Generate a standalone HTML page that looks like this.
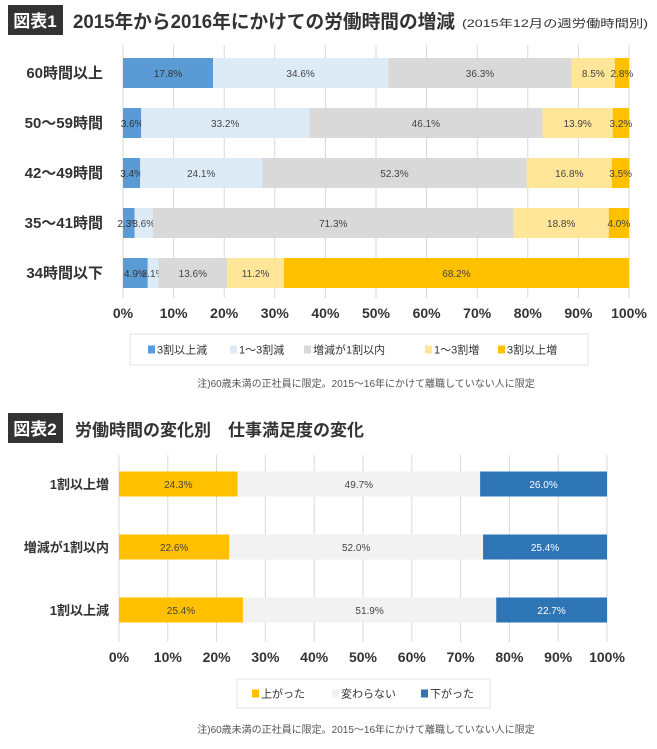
<!DOCTYPE html>
<html><head><meta charset="utf-8"><style>
body{margin:0;background:#fff;font-family:"Liberation Sans","Noto Sans CJK JP",sans-serif;}
svg text{font-family:"Liberation Sans","Noto Sans CJK JP",sans-serif;}
</style></head><body>
<svg id="c" width="657" height="744" xmlns="http://www.w3.org/2000/svg">
<rect x="8" y="5" width="55" height="30" fill="#333"/>
<text x="35" y="27" font-size="17" font-weight="bold" fill="#fff" text-anchor="middle">図表1</text>
<text x="73" y="28" font-size="19" font-weight="bold" fill="#333" textLength="382" lengthAdjust="spacingAndGlyphs">2015年から2016年にかけての労働時間の増減</text>
<text x="462" y="27" font-size="11" fill="#333" textLength="186" lengthAdjust="spacingAndGlyphs">(2015年12月の週労働時間別)</text>
<rect x="8" y="413" width="55" height="30" fill="#333"/>
<text x="35" y="435" font-size="17" font-weight="bold" fill="#fff" text-anchor="middle">図表2</text>
<text x="75" y="436" font-size="17" font-weight="bold" fill="#333">労働時間の変化別　仕事満足度の変化</text>
<g id="g1"></g><g id="g2"></g>
</svg>
<script>
const cats1=["60時間以上","50〜59時間","42〜49時間","35〜41時間","34時間以下"];
const series1Names=["3割以上減","1〜3割減","増減が1割以内","1〜3割増","3割以上増"];
const s1a=[17.8,3.6,3.4,2.3,4.9];
const s1b=[34.6,33.2,24.1,3.6,2.1];
const s1c=[36.3,46.1,52.3,71.3,13.6];
const s1d=[8.5,13.9,16.8,18.8,11.2];
const s1e=[2.8,3.2,3.5,4.0,68.2];
const cats2=["1割以上増","増減が1割以内","1割以上減"];
const series2Names=["上がった","変わらない","下がった"];
const s2a=[24.3,22.6,25.4];
const s2b=[49.7,52.0,51.9];
const s2c=[26.0,25.4,22.7];
const ticks=["0%","10%","20%","30%","40%","50%","60%","70%","80%","90%","100%"];
const NS="http://www.w3.org/2000/svg";
function mk(p,t,a,txt){const e=document.createElementNS(NS,t);for(const k in a)e.setAttribute(k,a[k]);if(txt!=null)e.textContent=txt;p.appendChild(e);return e;}
function draw(g,o){
  const X=v=>o.x0+v/100*o.w;
  ticks.forEach((t,i)=>{
    const l=mk(g,'line',{x1:X(i*10),x2:X(i*10),y1:o.gy0,y2:o.gy1,stroke:'#d9d9d9'});
    
    
    const tx=mk(g,'text',{x:X(i*10),y:o.ty,'font-size':o.tfs,'font-weight':'bold',fill:'#333','text-anchor':'middle'},t);
    
    
  });
  o.cats.forEach((c,i)=>{
    const cy=o.y0+i*o.step;
    const lb=mk(g,'text',{x:o.x0-o.lo,y:cy+5,'font-size':o.cfs,'font-weight':'bold',fill:'#333','text-anchor':'end'},c);
    
    
    let acc=0;
    o.series.forEach((s,j)=>{
      const v=s[i];
      const r=mk(g,'rect',{x:X(acc),y:cy-o.bh/2,width:X(acc+v)-X(acc),height:o.bh,fill:o.colors[j]});
      
      
      const t=mk(g,'text',{x:(X(acc)+X(acc+v))/2,y:cy+4,'font-size':10,fill:o.tcol[j],'text-anchor':'middle'},v.toFixed(1)+'%');
      
      
      acc+=v;
    });
  });
  const lg=mk(g,'rect',{x:o.lx,y:o.ly,width:o.lw,height:o.lh,fill:'#fff',stroke:'#e3e3e3'});
  
  
  o.names.forEach((n,j)=>{
    const sw=mk(g,'rect',{x:o.lex[j],y:o.ly+o.lh/2-4,width:7,height:8,fill:o.colors[j]});
    
    
    const t=mk(g,'text',{x:o.lex[j]+9,y:o.ly+o.lh/2+4,'font-size':11,fill:'#333'},n);
    
    
  });
  const nt=mk(g,'text',{x:o.nx,y:o.ny,'font-size':10,fill:'#555','text-anchor':'middle'},'注)60歳未満の正社員に限定。2015〜16年にかけて離職していない人に限定');
  
  
}
draw(document.getElementById('g1'),{x0:123,w:506,gy0:45,gy1:298,ty:318,tfs:14,cfs:15,lo:20,y0:73,step:50,bh:30,
 cats:cats1,series:[s1a,s1b,s1c,s1d,s1e],names:series1Names,
 colors:["#5b9bd5","#ddebf7","#d9d9d9","#ffe699","#ffc000"],tcol:["#333","#444","#444","#444","#444"],
 lx:130,ly:334,lw:458,lh:31,lex:[148,230,304,425,498],nx:366,ny:387});
draw(document.getElementById('g2'),{x0:119,w:488,gy0:455,gy1:642,ty:662,tfs:14,cfs:13,lo:10,y0:484,step:63,bh:25,
 cats:cats2,series:[s2a,s2b,s2c],names:series2Names,
 colors:["#ffc000","#f2f2f2","#2e75b6"],tcol:["#444","#444","#fff"],
 lx:237,ly:679,lw:253,lh:29,lex:[252,332,421],nx:366,ny:733});
</script>
</body></html>
